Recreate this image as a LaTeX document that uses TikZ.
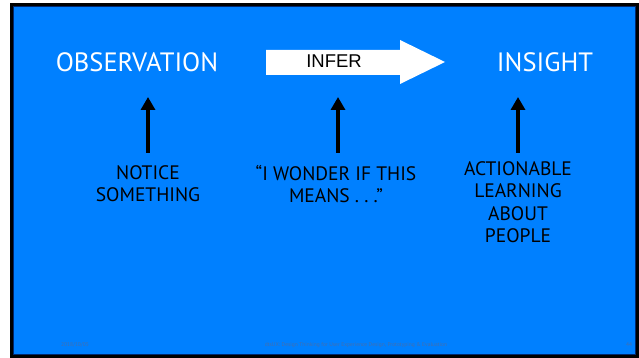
\documentclass[tikz,border=0pt]{standalone}
\usepackage{fontspec}
\setmainfont{PT Sans}
\newfontfamily\helv{Liberation Sans}
\definecolor{slideblue}{RGB}{0,128,255}
\definecolor{slideedge}{RGB}{0,40,110}
\definecolor{footgray}{RGB}{70,110,170}
\usetikzlibrary{arrows.meta,positioning}

\begin{document}
\begin{tikzpicture}[
    x=1pt,y=-1pt,
    head/.style={text=white,font=\fontsize{26.5}{30}\selectfont,inner sep=2pt},
    note/.style={text=black,align=center,font=\fontsize{19.5}{22.5}\selectfont,inner sep=2pt},
    uparrow/.style={-{Triangle[width=14pt,length=13pt]},line width=4pt,black},
    foot/.style={text=footgray,font=\fontsize{5.5}{6}\selectfont,inner sep=0pt}
  ]
    \useasboundingbox (0,0) rectangle (639,358);
    % Slide frame
    \fill[black] (10,3) rectangle (639,358);
    \fill[slideblue,draw=slideedge,line width=0.8pt] (13.5,6.5) rectangle (635.5,354.5);

    % Row 1: headings and the infer arrow
    \node[head] (obs) at (137,62) {OBSERVATION};
    \fill[white] (266,50) -- (400,50) -- (400,40) -- (445,62) -- (400,84)
                 -- (400,75) -- (266,75) -- cycle;
    \node[text=black,font=\helv\fontsize{18.5}{20}\selectfont] (infer) at (334,61) {INFER};
    \node[head] (ins) at (545,62) {INSIGHT};

    % Row 2: notes
    \node[note,anchor=north] (notice) at (148,163) {NOTICE\\SOMETHING};
    \node[note,anchor=north] (wonder) at (336,163) {``I WONDER IF THIS\\MEANS .\ .\ .''};
    \node[note,anchor=north] (action) at (518,159) {ACTIONABLE\\LEARNING\\ABOUT\\PEOPLE};

    % Arrows
    \draw[uparrow] (148,153) -- (148,97);
    \draw[uparrow] (338,153) -- (338,97);
    \draw[uparrow] (518,153) -- (518,97);

    % Footer
    \node[foot] (date) at (75,345) {2018/10/05};
    \node[foot] (title) at (356,345) {dtsUX: Design Thinking for User Experience Design, Prototyping \& Evaluation};
    \node[foot] (page) at (629,345) {44};
  \end{tikzpicture}
\end{document}
